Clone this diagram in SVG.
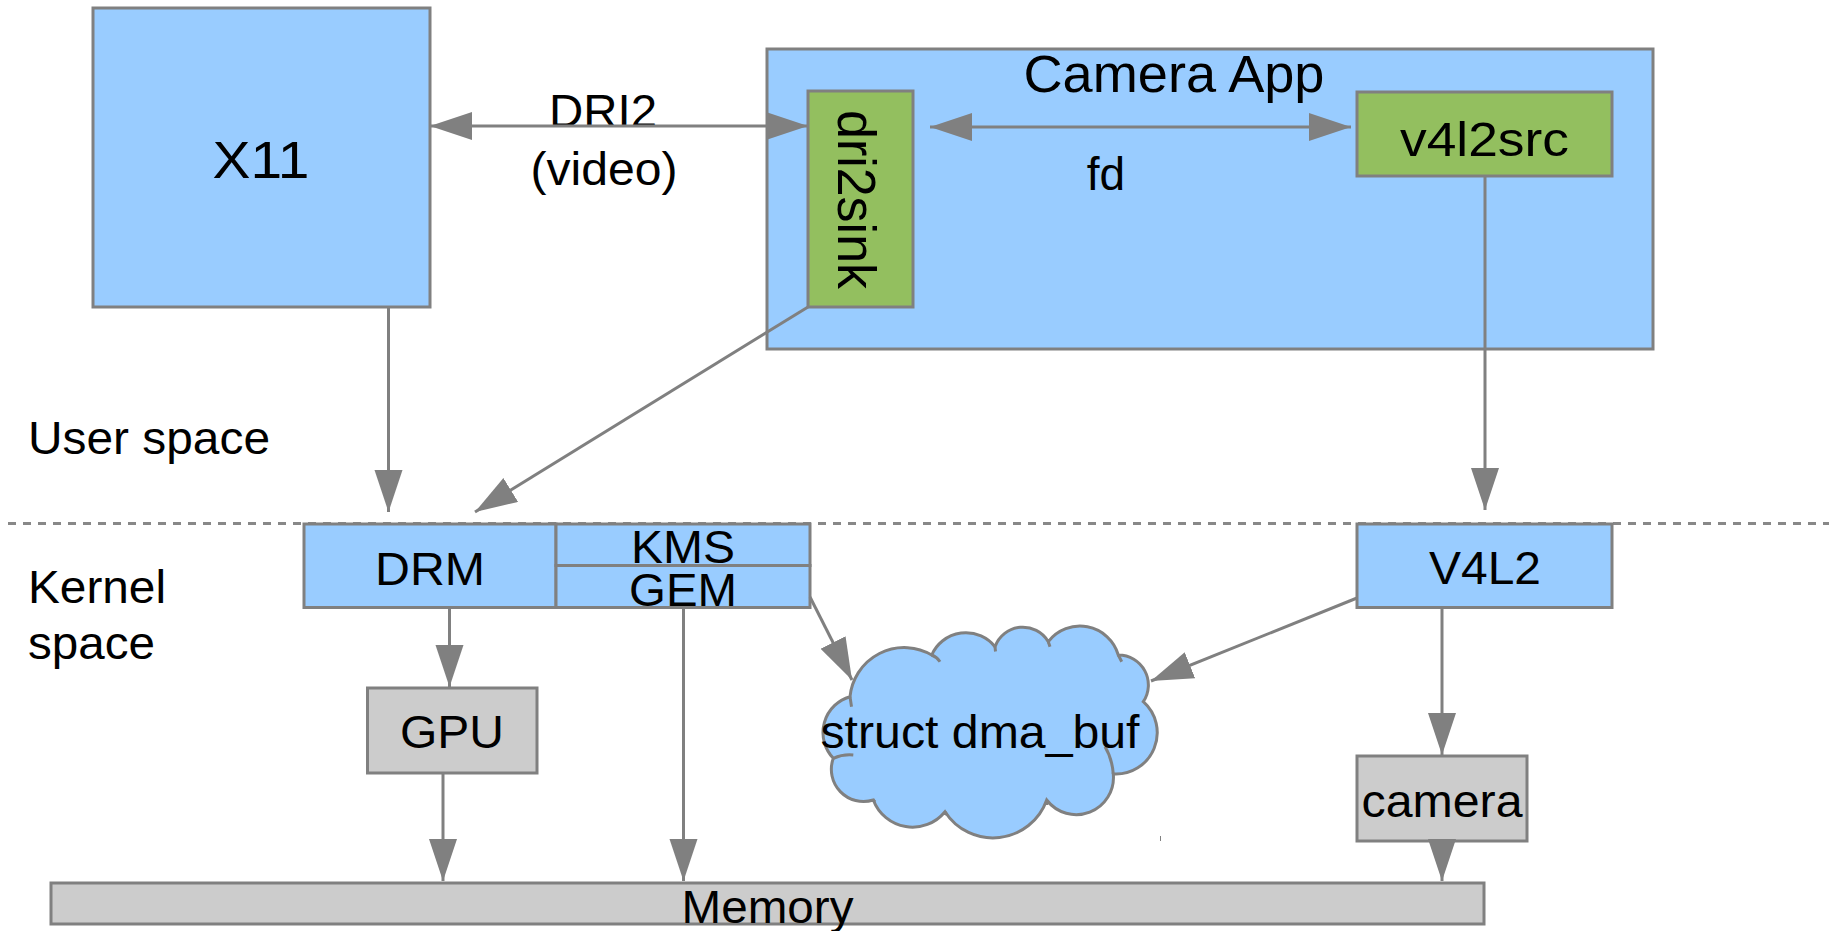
<svg xmlns="http://www.w3.org/2000/svg" width="1829" height="931" viewBox="0 0 1829 931">
<style>
text{font-family:"Liberation Sans",Arial,sans-serif;fill:#000}
.blue{fill:#99CCFF;stroke:#808080;stroke-width:3}
.green{fill:#93BF5F;stroke:#808080;stroke-width:3}
.gray{fill:#CCCCCC;stroke:#808080;stroke-width:3}
.conn{fill:none;stroke:#808080;stroke-width:3}
.t46{font-size:46px}
.mid{text-anchor:middle}
</style>
<defs>
<marker id="ah" markerUnits="userSpaceOnUse" markerWidth="44" markerHeight="30" refX="42" refY="14" orient="auto-start-reverse" viewBox="0 0 44 30">
<path d="M0,0 L42,14 L0,28 Z" fill="#808080"/>
</marker>
</defs>
<rect width="1829" height="931" fill="#FFFFFF"/>
<line x1="8" y1="523.5" x2="1829" y2="523.5" stroke="#888888" stroke-width="3" stroke-dasharray="8 7"/>

<g id="x11">
<rect class="blue" x="93" y="8" width="337" height="299"/>
<text x="261" y="177.5" class="mid" font-size="51" textLength="97" lengthAdjust="spacingAndGlyphs">X11</text>
</g>

<g id="camera-app">
<rect class="blue" x="767" y="49" width="886" height="300"/>
<text x="1174" y="91.5" class="mid" font-size="51" textLength="301" lengthAdjust="spacingAndGlyphs">Camera App</text>
</g>

<g id="dri2sink">
<rect class="green" x="808" y="91" width="105" height="216"/>
<text transform="translate(838,199.5) rotate(90)" class="mid" font-size="53" textLength="179" lengthAdjust="spacingAndGlyphs">dri2sink</text>
</g>

<g id="v4l2src">
<rect class="green" x="1357" y="92" width="255" height="84"/>
<text x="1484.5" y="156" class="mid" font-size="48" textLength="169" lengthAdjust="spacingAndGlyphs">v4l2src</text>
</g>

<g id="labels">
<text x="603" y="127" class="mid t46" textLength="108" lengthAdjust="spacingAndGlyphs">DRI2</text>
<text x="604" y="185" class="mid t46" textLength="147" lengthAdjust="spacingAndGlyphs">(video)</text>
<text x="1106" y="190" class="mid t46">fd</text>
<text x="28" y="454" class="t46" textLength="242" lengthAdjust="spacingAndGlyphs">User space</text>
<text x="28" y="603" class="t46" textLength="138" lengthAdjust="spacingAndGlyphs">Kernel</text>
<text x="28" y="659" class="t46" textLength="127" lengthAdjust="spacingAndGlyphs">space</text>
</g>

<g id="drm">
<rect class="blue" x="304" y="524" width="252" height="83.5"/>
<text x="430" y="585" class="mid t46" textLength="110" lengthAdjust="spacingAndGlyphs">DRM</text>
</g>

<g id="kms">
<rect class="blue" x="556" y="524" width="254" height="41.5"/>
<text x="683" y="562.5" class="mid t46" textLength="104" lengthAdjust="spacingAndGlyphs">KMS</text>
</g>

<g id="gem">
<rect class="blue" x="556" y="565.5" width="254" height="42"/>
<text x="683" y="606" class="mid t46" textLength="108" lengthAdjust="spacingAndGlyphs">GEM</text>
</g>

<g id="v4l2">
<rect class="blue" x="1357" y="524" width="255" height="83.5"/>
<text x="1485" y="584" class="mid t46" textLength="112" lengthAdjust="spacingAndGlyphs">V4L2</text>
</g>

<g id="gpu">
<rect class="gray" x="367.5" y="688" width="169.5" height="85"/>
<text x="452" y="748" class="mid t46" textLength="104" lengthAdjust="spacingAndGlyphs">GPU</text>
</g>

<g id="camera">
<rect class="gray" x="1357" y="756" width="170" height="85"/>
<text x="1442" y="817" class="mid" font-size="47" textLength="161" lengthAdjust="spacingAndGlyphs">camera</text>
</g>

<g id="dma-buf">
<path class="blue" d="M850,696.7 A54.5,54.5 0 0 1 931.7,655 A37.3,37.3 0 0 1 995,646.7 A29.6,29.6 0 0 1 1048.3,641.7 A39.9,39.9 0 0 1 1118.3,655 A30,30 0 0 1 1143.3,701.7 A41.4,41.4 0 0 1 1113.3,774 A37.2,37.2 0 0 1 1046.7,800 A57,57 0 0 1 945,811.7 A41.9,41.9 0 0 1 873.3,800 A32.2,32.2 0 0 1 833.3,758.3 A37.3,37.3 0 0 1 850,696.7 Z"/>
<path class="conn" d="M931.7,655 Q937,657 940,661.7 M995,646.7 L995.5,651.5 M1048.3,641.7 L1050,646.7 M1118.3,655 L1121.7,661.7 M1105,746.7 Q1112,758 1113.3,774 M1046.7,800 L1047,805 M945,811.7 L947,815 M873.3,800 L875,802 M833.3,758.3 Q843,754 853.3,755 M850,696.7 L851.5,706.7"/>
<text x="980" y="748" class="mid" font-size="47" textLength="319" lengthAdjust="spacingAndGlyphs">struct dma_buf</text>
</g>

<g id="memory">
<rect class="gray" x="51" y="883" width="1433" height="41"/>
<text x="767.5" y="923" class="mid t46" textLength="172" lengthAdjust="spacingAndGlyphs">Memory</text>
</g>

<g id="connectors">
<line class="conn" x1="430" y1="126" x2="808" y2="126" marker-start="url(#ah)" marker-end="url(#ah)"/>
<line class="conn" x1="930" y1="127" x2="1351" y2="127" marker-start="url(#ah)" marker-end="url(#ah)"/>
<line class="conn" x1="388.5" y1="307" x2="388.5" y2="512" marker-end="url(#ah)"/>
<line class="conn" x1="808" y1="307" x2="475" y2="512" marker-end="url(#ah)"/>
<line class="conn" x1="1485" y1="176" x2="1485" y2="510" marker-end="url(#ah)"/>
<line class="conn" x1="449.5" y1="607.5" x2="449.5" y2="687" marker-end="url(#ah)"/>
<line class="conn" x1="443" y1="773" x2="443" y2="881" marker-end="url(#ah)"/>
<line class="conn" x1="683.5" y1="607.5" x2="683.5" y2="881" marker-end="url(#ah)"/>
<line class="conn" x1="810" y1="597" x2="852" y2="680" marker-end="url(#ah)"/>
<line class="conn" x1="1357" y1="598" x2="1151" y2="681" marker-end="url(#ah)"/>
<line class="conn" x1="1442" y1="607.5" x2="1442" y2="755" marker-end="url(#ah)"/>
<line class="conn" x1="1442" y1="841" x2="1442" y2="881" marker-end="url(#ah)"/>
<line x1="1160.5" y1="836" x2="1160.5" y2="841" stroke="#808080" stroke-width="1"/>
</g>
</svg>
